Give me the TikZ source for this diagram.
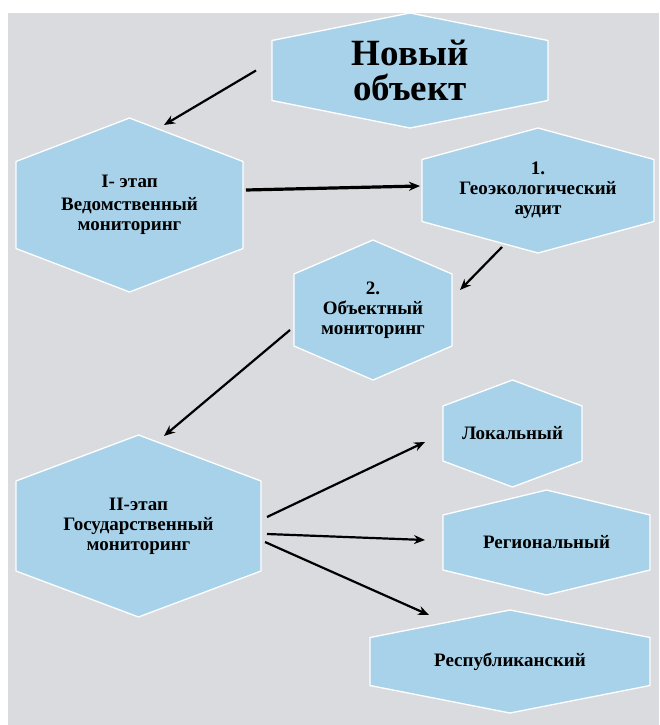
\documentclass[tikz,border=0pt]{standalone}
\usepackage{fontspec}
\setmainfont{Liberation Serif}
\usepackage{tikz}
\usetikzlibrary{arrows.meta}
\pgfdeclarelayer{back}
\pgfsetlayers{back,main}
\definecolor{paneGray}{RGB}{217,219,222}
\definecolor{hexBlue}{RGB}{168,210,233}

\begin{document}
\begin{tikzpicture}[x=1pt, y=-1pt]

        \def\fs{19}

        % labels sit in invisible boxes, the hexagons go behind them
        \tikzset{box/.style={inner sep=0pt, outer sep=0pt, align=center,
                font=\bfseries\fontsize{\fs}{20}\selectfont}}
        \tikzset{arr/.style={-{Stealth[length=11pt,width=9pt]}, line width=2.2pt}}

        \useasboundingbox (0, 0) rectangle (659, 725);

        \node[box, minimum width=276pt, minimum height=115pt,
            font=\bfseries\fontsize{37}{35}\selectfont] (N) at (410, 70.5)
            {Новый\\объект};
        \node[box, minimum width=227pt, minimum height=174pt] (S1) at (129.5, 205)
            {I- этап\\[3pt]Ведомственный\\мониторинг};
        \node[box, minimum width=232pt, minimum height=125pt] (A1) at (538, 190.5)
            {1.\\Геоэкологический\\аудит};
        \node[box, minimum width=158pt, minimum height=140pt] (M1) at (373, 310)
            {2.\\Объектный\\мониторинг};
        \node[box, minimum width=245pt, minimum height=182pt] (S2) at (138.5, 526)
            {II-этап\\Государственный\\мониторинг};
        \node[box, minimum width=139pt, minimum height=107pt] (L) at (512.5, 433.5)
            {Локальный};
        \node[box, minimum width=207pt, minimum height=105pt] (R) at (546.5, 542.5)
            {Региональный};
        \node[box, minimum width=280pt, minimum height=103pt] (P) at (510, 661.5)
            {Республиканский};

        % half height of the vertical sides of each hexagon
        \begin{pgfonlayer}{back}
            \fill[paneGray] (8, 13) rectangle (659, 725);
            \foreach \n/\v in {N/30, S1/43.5, A1/31, M1/36, S2/45, L/27.5, R/27.5, P/24}
            \filldraw[fill=hexBlue, draw=white, line width=1.3pt, line join=round]
                (\n.north) -- ([yshift=\v pt]\n.east) -- ([yshift=-\v pt]\n.east)
                -- (\n.south) -- ([yshift=-\v pt]\n.west)
                -- ([yshift=\v pt]\n.west) -- cycle;
        \end{pgfonlayer}

        \begin{scope}[arr]
            \draw ([xshift=-16pt]N.west) -- ([shift={(34.5pt,-7pt)}]S1.north);
            \draw[line width=3.2pt] ([shift={(3pt,15pt)}]S1.east)
                -- ([shift={(-2pt,4.5pt)}]A1.west);
            \draw ([shift={(-36pt,6pt)}]A1.south) -- ([shift={(8pt,20pt)}]M1.east);
            \draw ([shift={(-4pt,-20pt)}]M1.west) -- ([shift={(25.5pt,-1pt)}]S2.north);

            \draw ([shift={(6pt,9pt)}]S2.east) -- ([shift={(-18pt,-8.5pt)}]L.west);
            \draw ([shift={(6pt,-8pt)}]S2.east) -- ([shift={(-18pt,2.5pt)}]R.west);
            \draw ([shift={(4pt,-16pt)}]S2.east) -- ([shift={(-81pt,-5pt)}]P.north);
        \end{scope}

\end{tikzpicture}
\end{document}
